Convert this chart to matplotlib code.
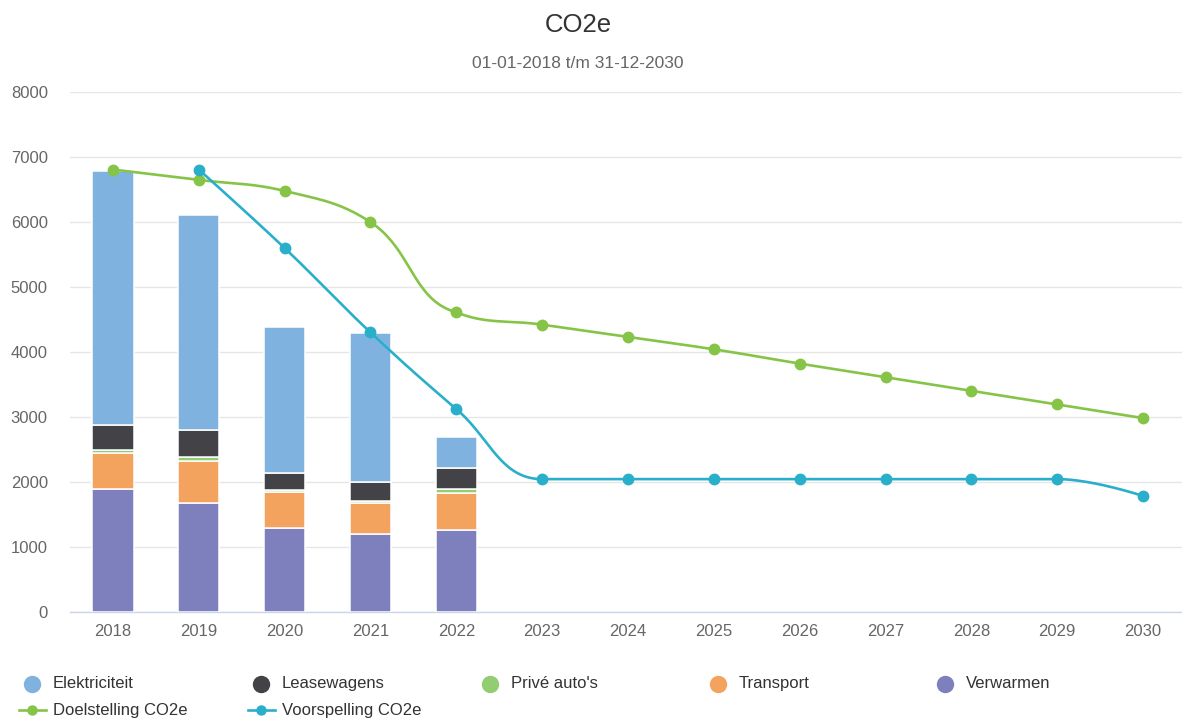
import numpy as np
import matplotlib
matplotlib.use("Agg")
import matplotlib.pyplot as plt
from matplotlib.lines import Line2D

plt.rcParams["font.family"] = ["Liberation Sans", "DejaVu Sans"]

# ---- data -------------------------------------------------------------
years = ["2018", "2019", "2020", "2021", "2022", "2023", "2024",
         "2025", "2026", "2027", "2028", "2029", "2030"]

# stacked emission components (only measured years)
verwarmen = [1890, 1670, 1280, 1190, 1255]
transport = [550, 650, 565, 485, 575]
prive_autos = [50, 65, 25, 30, 50]
leasewagens = [390, 410, 270, 295, 325]
elektriciteit = [3910, 3315, 2250, 2290, 490]

doelstelling = [6810, 6650, 6480, 6000, 4610, 4420, 4230,
                4040, 3820, 3610, 3400, 3190, 2980]
voorspelling = [None, 6810, 5600, 4300, 3120, 2040, 2040,
                2040, 2040, 2040, 2040, 2040, 1780]

yticks = [0, 1000, 2000, 3000, 4000, 5000, 6000, 7000, 8000]

# ---- colours ----------------------------------------------------------
c_elek = "#80b2e0"
c_lease = "#424247"
c_prive = "#93cd72"
c_trans = "#f3a35d"
c_verw = "#7d80bd"
c_doel = "#86c448"
c_voor = "#2aafcb"

W, H = 1182, 720
fig = plt.figure(figsize=(W / 100, H / 100), dpi=100)

# plot area in pixel terms
left_px, right_px = 70, 70 + 13 * 85.85
bottom_px, top_px = 611.5, 92.3
ax = fig.add_axes([left_px / W, 1 - bottom_px / H,
                   (right_px - left_px) / W, (bottom_px - top_px) / H])
ax.set_xlim(-0.5, len(years) - 0.5)
ax.set_ylim(0, 8000)

# ---- stacked columns --------------------------------------------------
x_bar = np.arange(len(verwarmen))
bw = 0.48
bottom = np.zeros(len(verwarmen))
for vals, col in [(verwarmen, c_verw), (transport, c_trans),
                  (prive_autos, c_prive), (leasewagens, c_lease),
                  (elektriciteit, c_elek)]:
    ax.bar(x_bar, vals, bw, bottom=bottom, color=col,
           edgecolor="white", linewidth=1.1, zorder=3)
    bottom += np.array(vals)


# ---- spline helper (cubic Bezier with smoothed control points) --------
def spline_path(xs, ys, sx=85.85, sy=0.0649, smoothing=1.5, n=40):
    px = np.array(xs, float) * sx
    py = -np.array(ys, float) * sy      # screen-like y, downward
    denom = smoothing + 1
    m = len(px)
    lc = [None] * m
    rc = [None] * m
    for i in range(m):
        if i == 0 or i == m - 1:
            lc[i] = (px[i], py[i])
            rc[i] = (px[i], py[i])
            continue
        lx, ly = px[i - 1], py[i - 1]
        nx, ny = px[i + 1], py[i + 1]
        x, y = px[i], py[i]
        lcx = (smoothing * x + lx) / denom
        lcy = (smoothing * y + ly) / denom
        rcx = (smoothing * x + nx) / denom
        rcy = (smoothing * y + ny) / denom
        dl = np.hypot(lcx - x, lcy - y)
        dr = np.hypot(rcx - x, rcy - y)
        la = np.arctan2(lcy - y, lcx - x)
        ra = np.arctan2(rcy - y, rcx - x)
        ja = np.pi / 2 + (la + ra) / 2
        if abs(la - ja) > np.pi / 2:
            ja -= np.pi
        lcx = x + np.cos(ja) * dl
        lcy = y + np.sin(ja) * dl
        rcx = x + np.cos(np.pi + ja) * dr
        rcy = y + np.sin(np.pi + ja) * dr
        if rcy > y and rcy > ny:
            rcy = max(y, ny)
            lcy = 2 * y - rcy
        elif rcy < y and rcy < ny:
            rcy = min(y, ny)
            lcy = 2 * y - rcy
        if lcy > ly and lcy > y:
            lcy = max(ly, y)
            rcy = 2 * y - lcy
        elif lcy < ly and lcy < y:
            lcy = min(ly, y)
            rcy = 2 * y - lcy
        lc[i] = (lcx, lcy)
        rc[i] = (rcx, rcy)
    out_x, out_y = [px[0]], [py[0]]
    t = np.linspace(0, 1, n)[1:]
    for i in range(1, m):
        p0 = np.array([px[i - 1], py[i - 1]])
        p1 = np.array(rc[i - 1])
        p2 = np.array(lc[i])
        p3 = np.array([px[i], py[i]])
        pts = ((1 - t)[:, None] ** 3 * p0 + 3 * (1 - t)[:, None] ** 2 * t[:, None] * p1
               + 3 * (1 - t)[:, None] * t[:, None] ** 2 * p2 + t[:, None] ** 3 * p3)
        out_x.extend(pts[:, 0])
        out_y.extend(pts[:, 1])
    return np.array(out_x) / sx, -np.array(out_y) / sy


for series, col in [(doelstelling, c_doel), (voorspelling, c_voor)]:
    xs = [i for i, v in enumerate(series) if v is not None]
    ys = [v for v in series if v is not None]
    cx, cy = spline_path(xs, ys)
    ax.plot(cx, cy, color=col, lw=1.9, zorder=4, solid_capstyle="round")
    ax.plot(xs, ys, "o", color=col, ms=7.5, mec=col, zorder=5)

# ---- axes styling -----------------------------------------------------
ax.set_xticks(range(len(years)))
ax.set_xticklabels(years)
ax.set_yticks(yticks)
ax.set_yticklabels([str(v) for v in yticks])
ax.tick_params(axis="both", length=0, labelsize=12, colors="#666666")
ax.tick_params(axis="y", pad=16)
ax.tick_params(axis="x", pad=9)
for lab in ax.get_xticklabels() + ax.get_yticklabels():
    lab.set_color("#666666")
ax.grid(axis="y", color="#e6e6e6", lw=1, zorder=0)
ax.set_axisbelow(True)
for s in ["top", "right", "left"]:
    ax.spines[s].set_visible(False)
ax.spines["bottom"].set_color("#ccd6eb")
ax.spines["bottom"].set_linewidth(1)
ax.spines["bottom"].set_zorder(2)

# ---- titles -----------------------------------------------------------
fig.text(578 / W, 1 - 25 / H, "CO2e", ha="center", va="center",
         fontsize=18.5, color="#333333")
fig.text(578 / W, 1 - 63 / H, "01-01-2018 t/m 31-12-2030", ha="center",
         va="center", fontsize=12.5, color="#666666")

# ---- legend -----------------------------------------------------------
row1 = [("Elektriciteit", c_elek), ("Leasewagens", c_lease),
        ("Privé auto's", c_prive), ("Transport", c_trans),
        ("Verwarmen", c_verw)]
row2 = [("Doelstelling CO2e", c_doel), ("Voorspelling CO2e", c_voor)]
col_x = [32, 261, 490, 718, 945]


def fx(p):
    return p / W


def fy(p):
    return 1 - p / H


for (label, col), cxp in zip(row1, col_x):
    fig.add_artist(Line2D([fx(cxp)], [fy(683.5)], marker="o", ms=11.5,
                          color=col, mec=col, transform=fig.transFigure))
    fig.text(fx(cxp + 21), fy(683.5), label, ha="left", va="center",
             fontsize=12, color="#333333")

for (label, col), cxp in zip(row2, col_x[:2]):
    fig.add_artist(Line2D([fx(cxp - 13), fx(cxp + 14)], [fy(710), fy(710)],
                          color=col, lw=1.9, transform=fig.transFigure))
    fig.add_artist(Line2D([fx(cxp)], [fy(710)], marker="o", ms=6.5,
                          color=col, mec=col, transform=fig.transFigure))
    fig.text(fx(cxp + 21), fy(710), label, ha="left", va="center",
             fontsize=12, color="#333333")

fig.savefig("out.png", dpi=100, facecolor="white")
